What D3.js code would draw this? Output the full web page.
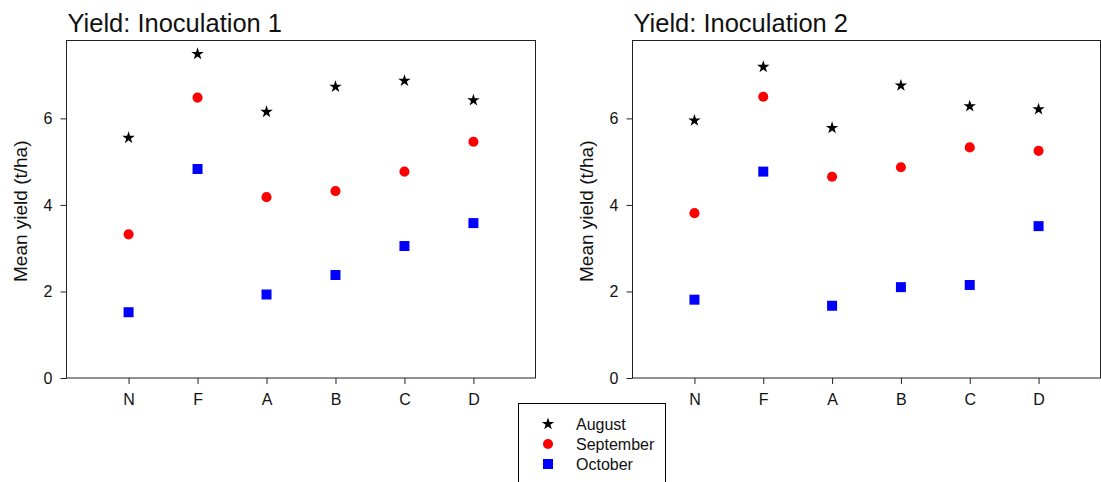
<!DOCTYPE html>
<meta charset="utf-8">
<style>
 body { margin: 0; background: #fff; }
 svg text { font-family: "Liberation Sans", Arial, sans-serif; fill: #111; }
 .tick text { font-size: 16px; }
 .title { font-size: 25.5px; }
 .ylab { font-size: 19px; }
 .legend text { font-size: 16px; }
</style>
<body>
<svg width="1101" height="482"></svg>
<script src="https://d3js.org/d3.v7.min.js"></script>
<script>

 // categories and series (mean yield, t/ha)
 var treatments = ["N", "F", "A", "B", "C", "D"];
 var months = ["August", "September", "October"];
 var yTicks = [0, 2, 4, 6];

 var inoc1Aug = [5.55, 7.49, 6.15, 6.73, 6.87, 6.42];
 var inoc1Sep = [3.32, 6.48, 4.18, 4.32, 4.77, 5.46];
 var inoc1Oct = [1.52, 4.83, 1.93, 2.38, 3.05, 3.58];

 var inoc2Aug = [5.95, 7.19, 5.78, 6.76, 6.28, 6.21];
 var inoc2Sep = [3.81, 6.50, 4.65, 4.87, 5.33, 5.25];
 var inoc2Oct = [1.81, 4.77, 1.67, 2.10, 2.15, 3.51];

 var panels = [
     { title: "Yield: Inoculation 1", left: 66.5, right: 535.5, series: [inoc1Aug, inoc1Sep, inoc1Oct] },
     { title: "Yield: Inoculation 2", left: 632.5, right: 1100.5, series: [inoc2Aug, inoc2Sep, inoc2Oct] }
 ];

 var plotTop = 40.5, plotBottom = 378;

 var svg = d3.select("svg");

 var symbols = [
     d3.symbol().type(d3.symbolStar).size(48),
     d3.symbol().type(d3.symbolCircle).size(80),
     d3.symbol().type(d3.symbolSquare).size(100)
 ];
 var colors = ["#000", "#ff0000", "#0000ff"];

 var y = d3.scaleLinear().domain([0, 7.8]).range([plotBottom, plotTop]);

 panels.forEach(function(p) {
     // positions 1..6 with margin on each side
     var x = d3.scaleLinear().domain([0.1, 6.9]).range([p.left, p.right]);

     var g = svg.append("g");

     g.append("rect")
      .attr("x", p.left).attr("y", plotTop)
      .attr("width", p.right - p.left).attr("height", plotBottom - plotTop)
      .attr("fill", "none").attr("stroke", "#222").attr("stroke-width", 1);

     var yAxis = g.append("g")
                  .attr("transform", "translate(" + p.left + ",0)")
                  .call(d3.axisLeft(y).tickValues(yTicks).tickSize(6).tickPadding(8).tickFormat(d3.format("d")));
     yAxis.select(".domain").remove();

     var xAxis = g.append("g")
                  .attr("transform", "translate(0," + plotBottom + ")")
                  .call(d3.axisBottom(x).tickValues(d3.range(1, treatments.length + 1))
                                        .tickSize(6).tickPadding(10)
                                        .tickFormat(function(d) { return treatments[d - 1]; }));
     xAxis.select(".domain").remove();

     g.selectAll(".tick line").attr("stroke", "#222");
     g.selectAll(".tick text").attr("fill", "#111");

     g.append("text")
      .attr("class", "title")
      .attr("x", p.left + 1).attr("y", 32)
      .text(p.title);

     g.append("text")
      .attr("class", "ylab")
      .attr("transform", "translate(" + (p.left - 40) + "," + ((plotTop + plotBottom) / 2 + 2) + ") rotate(-90)")
      .attr("text-anchor", "middle")
      .text("Mean yield (t/ha)");

     p.series.forEach(function(vals, si) {
         g.selectAll(".s" + si)
          .data(vals)
          .enter().append("path")
          .attr("class", "s" + si)
          .attr("transform", function(d, i) { return "translate(" + x(i + 1) + "," + y(d) + ")"; })
          .attr("d", symbols[si])
          .attr("fill", colors[si]);
     });
 });

 // legend
 var legend = svg.append("g").attr("class", "legend");
 legend.append("rect")
       .attr("x", 518.5).attr("y", 403.5)
       .attr("width", 147).attr("height", 100)
       .attr("fill", "#fff").attr("stroke", "#000");

 var item = legend.selectAll(".item")
                  .data(months)
                  .enter().append("g")
                  .attr("class", "item")
                  .attr("transform", function(d, i) { return "translate(0," + (424 + i * 20) + ")"; });

 item.append("path")
     .attr("transform", "translate(548,0)")
     .attr("d", function(d, i) { return symbols[i](); })
     .attr("fill", function(d, i) { return colors[i]; });

 item.append("text")
     .attr("x", 576).attr("dy", "0.35em")
     .text(function(d) { return d; });

</script>
</body>
